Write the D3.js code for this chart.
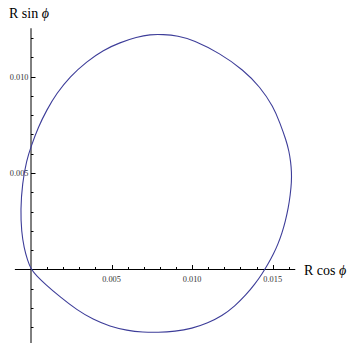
<!DOCTYPE html>
<html>
<head>
<meta charset="utf-8">
<script src="https://cdn.jsdelivr.net/npm/d3@7"></script>
<style>
html,body{margin:0;padding:0;background:#fff;}
svg{display:block;}
</style>
</head>
<body>
<svg id="chart" width="352" height="343"></svg>
<script>
// Curve points (R cos φ, R sin φ), in units of 0.001
const curveX = [0, 0.37, 0.87, 1.80, 2.85, 3.85, 4.90, 5.96, 6.95, 7.88, 8.94, 9.99, 10.98, 11.85, 12.66, 13.34, 13.90, 14.34,
  14.71, 15.05, 15.33, 15.58, 15.79, 15.97, 16.09, 16.17, 16.17, 16.12, 16.01, 15.83, 15.45, 15.04, 14.21, 13.18, 11.73,
  10.07, 9.12, 8.19, 7.39, 6.56, 5.52, 4.49, 3.46, 2.42, 1.59, 0.97, 0.45, 0,
  -0.27, -0.54, -0.65, -0.59, -0.43, -0.22];
const curveY = [0, -0.34, -0.75, -1.42, -2.10, -2.59, -2.95, -3.16, -3.25, -3.26, -3.21, -3.06, -2.77, -2.41, -1.89, -1.32, -0.75, -0.23,
  0.28, 0.80, 1.32, 1.89, 2.51, 3.19, 3.86, 4.53, 5.05, 5.57, 6.14, 6.71, 7.59, 8.44, 9.47, 10.34, 11.20,
  11.89, 12.11, 12.18, 12.18, 12.04, 11.76, 11.37, 10.78, 10.00, 9.13, 8.26, 7.38, 6.37,
  5.67, 4.47, 3.08, 1.94, 1.11, 0.49];

const xMajorTicks = [0.005, 0.010, 0.015];
const xTickLabels = ["0.005", "0.010", "0.015"];
const xMinorTicks = [0.001,0.002,0.003,0.004,0.006,0.007,0.008,0.009,0.011,0.012,0.013,0.014,0.016];
const yMajorTicks = [0.005, 0.010];
const yTickLabels = ["0.005", "0.010"];
const yMinorTicks = [-0.003,-0.002,-0.001,0.001,0.002,0.003,0.004,0.006,0.007,0.008,0.009,0.011,0.012];
const xAxisRange = [-0.001, 0.0164];
const yAxisRange = [-0.0040, 0.0125];

const svg = d3.select("#chart");
const x = d3.scaleLinear().domain([0, 0.015]).range([31, 272.7]);
const y = d3.scaleLinear().domain([0, 0.010]).range([269.5, 76.5]);

const axisColor = "#000";
const labelFont = "Liberation Serif, Times New Roman, serif";

// X axis line
svg.append("line")
  .attr("x1", x(xAxisRange[0])).attr("x2", x(xAxisRange[1]))
  .attr("y1", y(0)).attr("y2", y(0))
  .attr("stroke", axisColor).attr("stroke-width", 1);
// Y axis line
svg.append("line")
  .attr("x1", x(0)).attr("x2", x(0))
  .attr("y1", y(yAxisRange[0])).attr("y2", y(yAxisRange[1]))
  .attr("stroke", axisColor).attr("stroke-width", 1);

// X ticks (upwards)
svg.selectAll(".xmaj").data(xMajorTicks).enter().append("line")
  .attr("x1", d => Math.round(x(d)) + 0.5).attr("x2", d => Math.round(x(d)) + 0.5)
  .attr("y1", y(0)).attr("y2", y(0) - 4.5)
  .attr("stroke", axisColor).attr("stroke-width", 1);
svg.selectAll(".xmin").data(xMinorTicks).enter().append("line")
  .attr("x1", d => Math.round(x(d)) + 0.5).attr("x2", d => Math.round(x(d)) + 0.5)
  .attr("y1", y(0)).attr("y2", y(0) - 2.5)
  .attr("stroke", axisColor).attr("stroke-width", 1);
// Y ticks (rightwards)
svg.selectAll(".ymaj").data(yMajorTicks).enter().append("line")
  .attr("x1", x(0)).attr("x2", x(0) + 4.5)
  .attr("y1", d => Math.round(y(d)) + 0.5).attr("y2", d => Math.round(y(d)) + 0.5)
  .attr("stroke", axisColor).attr("stroke-width", 1);
svg.selectAll(".ymin").data(yMinorTicks).enter().append("line")
  .attr("x1", x(0)).attr("x2", x(0) + 2.5)
  .attr("y1", d => Math.round(y(d)) + 0.5).attr("y2", d => Math.round(y(d)) + 0.5)
  .attr("stroke", axisColor).attr("stroke-width", 1);

// Tick labels
svg.selectAll(".xlab").data(xMajorTicks).enter().append("text")
  .attr("x", d => x(d)).attr("y", y(0) + 12)
  .attr("text-anchor", "middle")
  .attr("font-family", labelFont).attr("font-size", "8.3px").attr("fill", "#333")
  .text((d, i) => xTickLabels[i]);
svg.selectAll(".ylab").data(yMajorTicks).enter().append("text")
  .attr("x", x(0) - 2.5).attr("y", d => y(d) + 3)
  .attr("text-anchor", "end")
  .attr("font-family", labelFont).attr("font-size", "8.3px").attr("fill", "#333")
  .text((d, i) => yTickLabels[i]);

// Axis labels
const yl = svg.append("text").attr("x", 9).attr("y", 18)
  .attr("font-family", labelFont).attr("font-size", "14px").attr("fill", "#000");
yl.append("tspan").text("R sin ");
yl.append("tspan").attr("font-style", "italic").text("\u03d5");
const xl = svg.append("text").attr("x", 304).attr("y", y(0) + 5)
  .attr("font-family", labelFont).attr("font-size", "14px").attr("fill", "#000");
xl.append("tspan").text("R cos ");
xl.append("tspan").attr("font-style", "italic").text("\u03d5");

// Curve
const pts = curveX.map((cx, i) => [cx * 0.001, curveY[i] * 0.001]);
const line = d3.line().x(d => x(d[0])).y(d => y(d[1])).curve(d3.curveBasisClosed);
svg.append("path").attr("d", line(pts))
  .attr("fill", "none").attr("stroke", "#3d3d99").attr("stroke-width", 1.1);
</script>
</body>
</html>
